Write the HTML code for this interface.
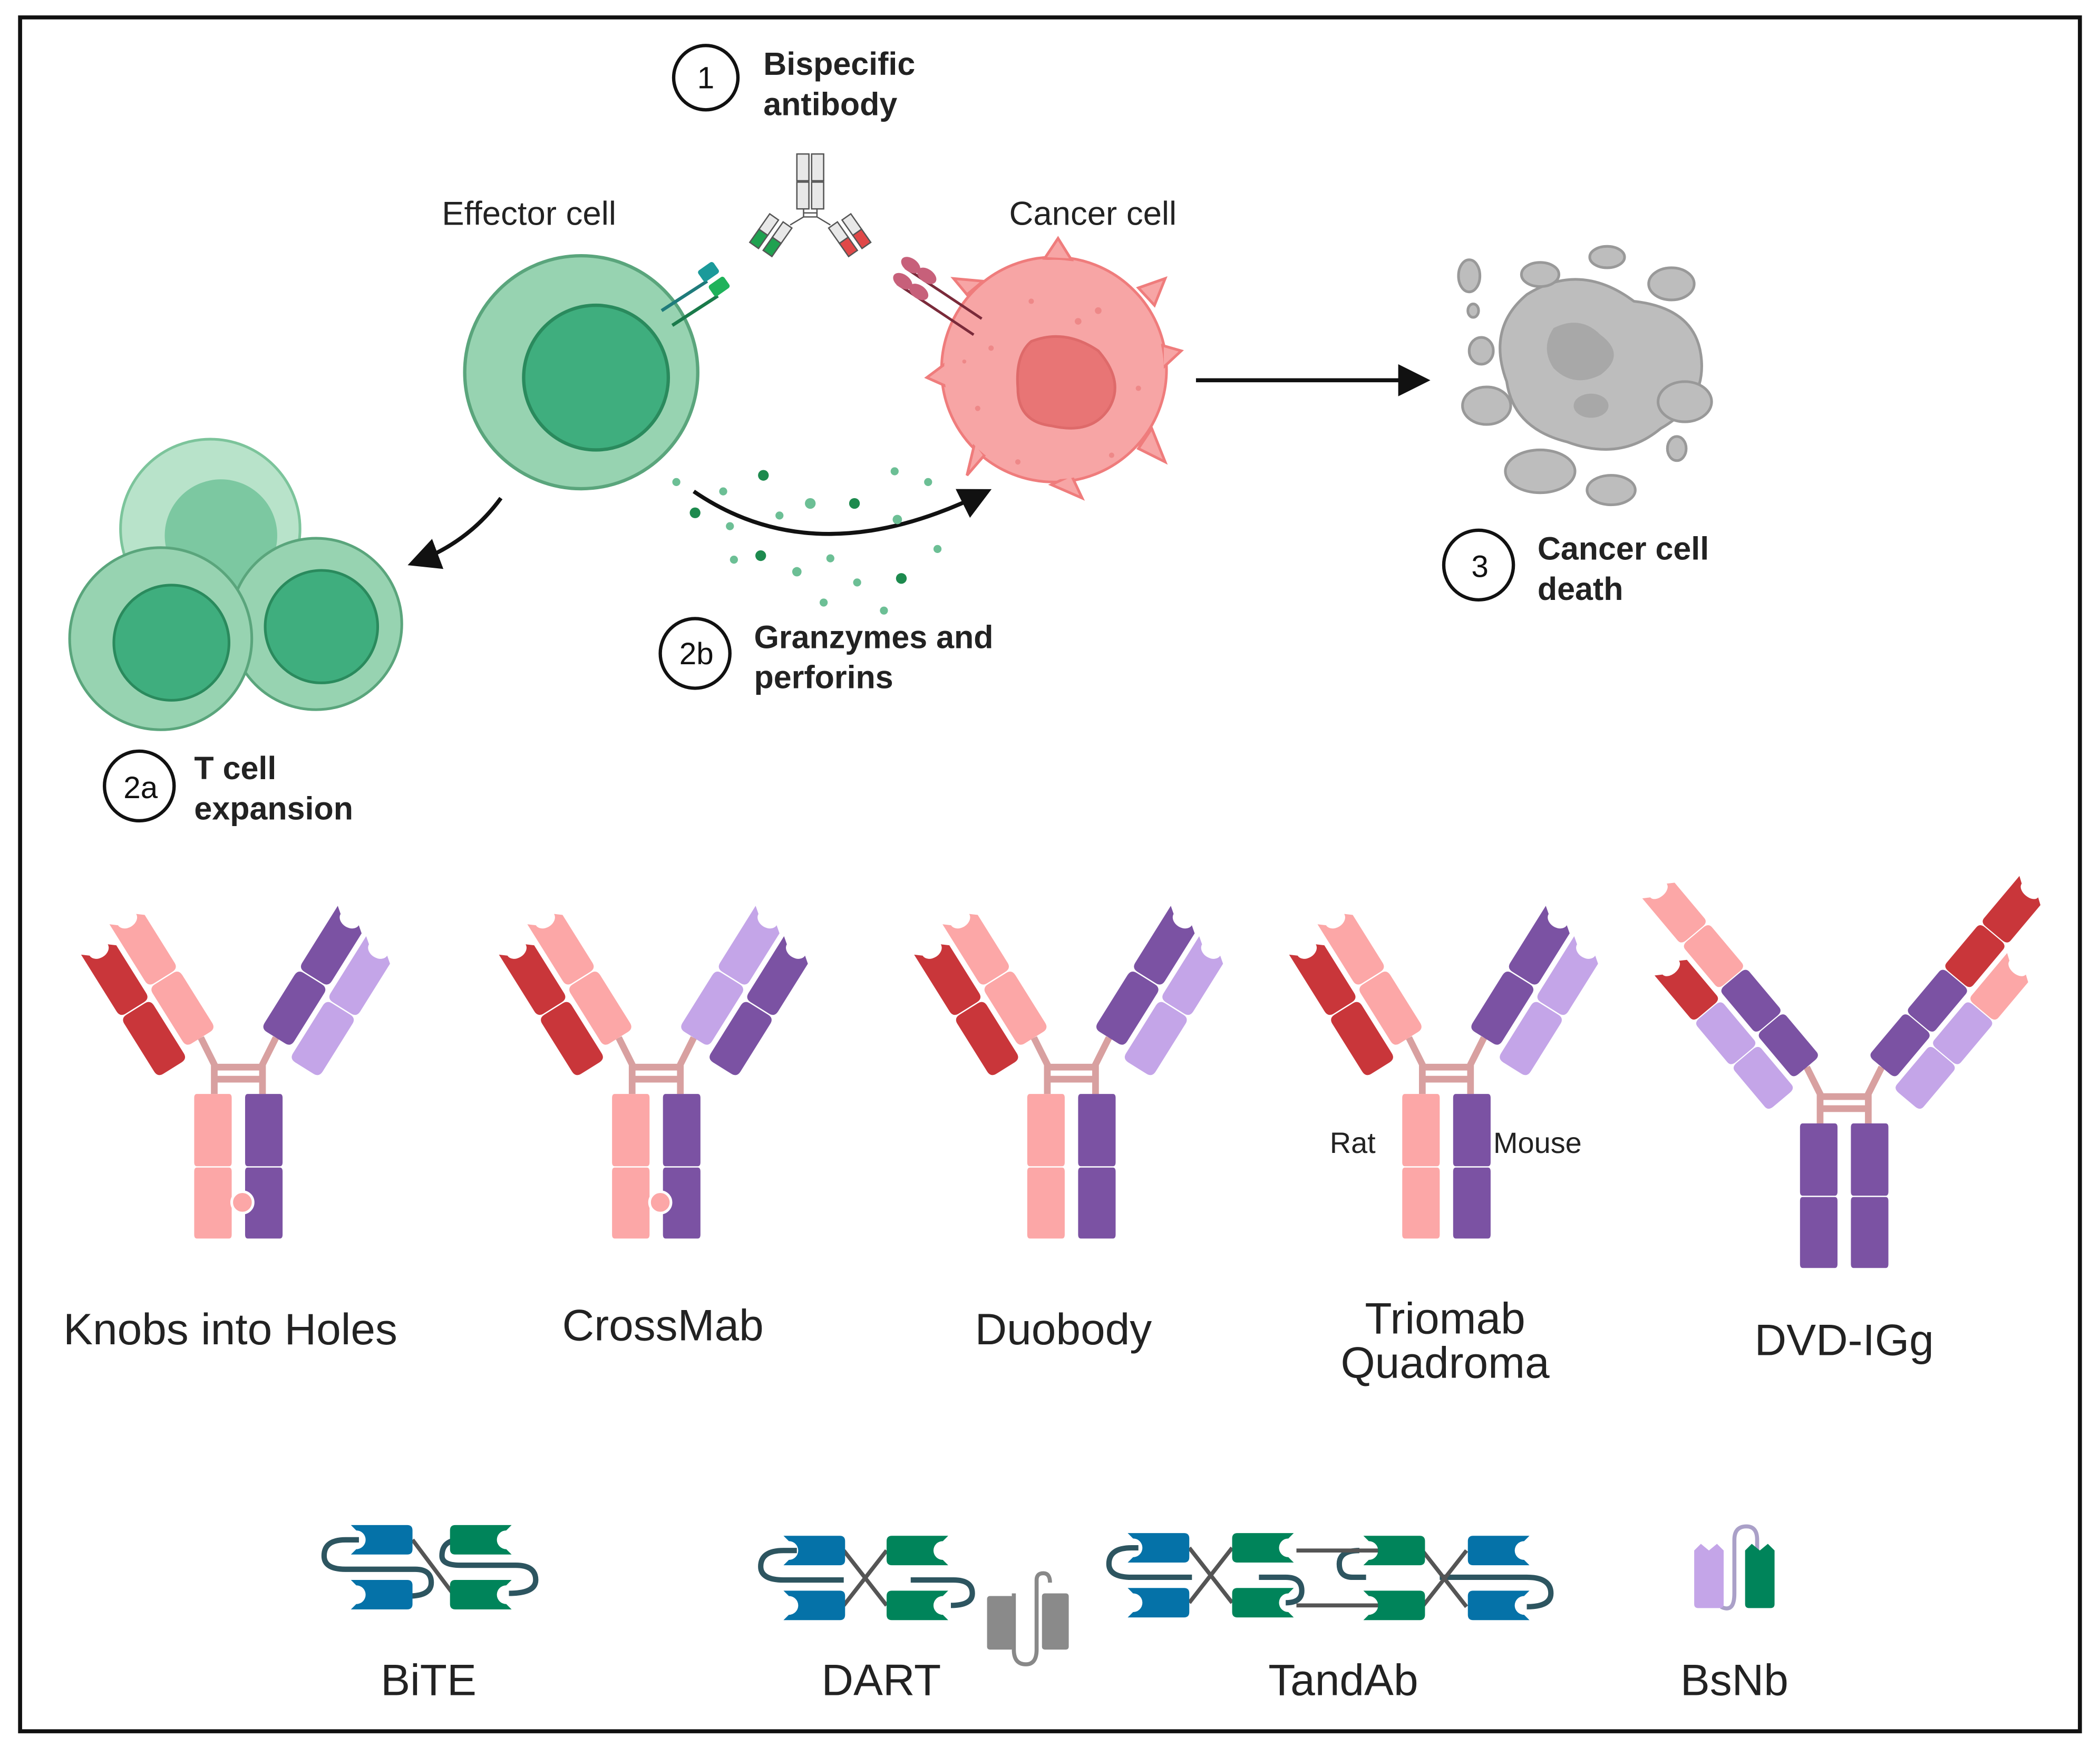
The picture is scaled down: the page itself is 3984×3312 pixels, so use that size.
<!DOCTYPE html>
<html><head><meta charset="utf-8"><style>
html,body{margin:0;padding:0;background:#fff}
svg{display:block}
text{font-family:"Liberation Sans",Arial,sans-serif}
</style></head><body>
<svg width="3984" height="3312" viewBox="0 0 1568 1304" preserveAspectRatio="none" xmlns="http://www.w3.org/2000/svg">
<defs>
<path id="cb" d="M-13,-47 Q-13,-52 -8,-52 L8,-52 Q13,-52 13,-47 L13,-5 Q13,0 8,0 L-8,0 Q-13,0 -13,-5 Z"/>
<path id="vb" d="M-13,-58 Q-13,-53 -8,-53 L8,-53 Q13,-53 13,-58 L13,-100 L8,-104 A8,6 0 0 1 -8,-104 L-13,-108 Z"/>
<path id="sb" d="M-22,-11 L20,-11 Q24,-11 24,-7 L24,7 Q24,11 20,11 L-22,11 L-18,7 A7,7 0 0 0 -18,-7 Z"/>
<path id="st" d="M-31,-108 h24 q2,0 2,3 v48 q0,3 -2,3 h-24 q-2,0 -2,-3 v-48 q0,-3 2,-3Z M-31,-53 h24 q2,0 2,3 v47 q0,3 -2,3 h-24 q-2,0 -2,-3 v-47 q0,-3 2,-3Z"/>
<marker id="ah" markerWidth="8" markerHeight="8" refX="6" refY="4" orient="auto" markerUnits="strokeWidth"><path d="M0,0 L8,4 L0,8 Z" fill="#111"/></marker>
</defs>
<rect width="1568" height="1304" fill="#fff"/>
<rect x="15" y="13" width="1538" height="1280" fill="none" stroke="#111" stroke-width="3"/>

<!-- T cell expansion -->
<circle cx="157" cy="395" r="67" fill="#b8e3ca" stroke="#7cc49b" stroke-width="2"/>
<circle cx="165" cy="400" r="42" fill="#7cc8a1"/>
<circle cx="236" cy="466" r="64" fill="#97d3b1" stroke="#5aa57c" stroke-width="2"/>
<circle cx="240" cy="468" r="42" fill="#3fae7e" stroke="#2a8a5d" stroke-width="2"/>
<circle cx="120" cy="477" r="68" fill="#97d3b1" stroke="#5aa57c" stroke-width="2"/>
<circle cx="128" cy="480" r="43" fill="#3fae7e" stroke="#2a8a5d" stroke-width="2"/>
<path d="M374,372 Q350,405 310,420" fill="none" stroke="#111" stroke-width="3" marker-end="url(#ah)"/>

<!-- Effector cell -->
<circle cx="434" cy="278" r="87" fill="#97d3b1" stroke="#5aa57c" stroke-width="2.5"/>
<circle cx="445" cy="282" r="54" fill="#3fae7e" stroke="#2a8a5d" stroke-width="2.5"/>
<line x1="494" y1="232" x2="528" y2="210" stroke="#1f7b7b" stroke-width="2.5"/>
<rect x="522" y="198" width="14" height="10" rx="2" fill="#1b9a9a" transform="rotate(-35 529 203)"/>
<line x1="502" y1="243" x2="536" y2="221" stroke="#1a7a4a" stroke-width="2.5"/>
<rect x="530" y="209" width="14" height="10" rx="2" fill="#1fb25a" transform="rotate(-35 537 214)"/>
<text x="395" y="168" font-size="25" text-anchor="middle" fill="#222">Effector cell</text>

<!-- small antibody -->
<g stroke="#555" stroke-width="1">
<rect x="595" y="115" width="9" height="20" fill="#e8e8e8"/><rect x="606" y="115" width="9" height="20" fill="#e8e8e8"/>
<rect x="595" y="136" width="9" height="20" fill="#e8e8e8"/><rect x="606" y="136" width="9" height="20" fill="#e8e8e8"/>
<path d="M600,156 V162 L590,168 M610,156 V162 L620,168 M600,159 H610 M600,162 H610" fill="none"/>
<g transform="translate(588,168) rotate(35)"><rect x="-4" y="0" width="8" height="14" fill="#e8e8e8"/><rect x="-4" y="14" width="8" height="12" fill="#1fa150"/></g>
<g transform="translate(578,162) rotate(35)"><rect x="-4" y="0" width="8" height="14" fill="#e8e8e8"/><rect x="-4" y="14" width="8" height="12" fill="#1fa150"/></g>
<g transform="translate(622,168) rotate(-35)"><rect x="-4" y="0" width="8" height="14" fill="#e8e8e8"/><rect x="-4" y="14" width="8" height="12" fill="#e04848"/></g>
<g transform="translate(632,162) rotate(-35)"><rect x="-4" y="0" width="8" height="14" fill="#e8e8e8"/><rect x="-4" y="14" width="8" height="12" fill="#e04848"/></g>
</g>

<!-- Cancer cell -->
<g fill="#f7a5a5" stroke="#ef7c7c" stroke-width="2">
<circle cx="787" cy="276" r="84"/>
<path d="M780,193 L790,178 L800,194Z M850,215 L870,208 L862,228Z M868,258 L882,262 L868,275Z M860,320 L870,345 L850,335Z M800,355 L808,372 L785,362Z M735,340 L722,355 L728,330Z M710,290 L692,282 L708,270Z M722,220 L712,208 L734,210Z"/>
</g>
<circle cx="787" cy="276" r="82" fill="#f7a5a5"/>
<path d="M770,255 Q795,245 820,262 Q840,285 828,305 Q815,325 785,318 Q760,315 760,290 Q758,265 770,255Z" fill="#e87575" stroke="#de6a6a" stroke-width="2"/>
<g fill="#ee8888"><circle cx="740" cy="260" r="2"/><circle cx="770" cy="225" r="2"/><circle cx="820" cy="232" r="2.5"/><circle cx="850" cy="290" r="2"/><circle cx="730" cy="305" r="2"/><circle cx="760" cy="345" r="2"/><circle cx="830" cy="340" r="2"/><circle cx="805" cy="240" r="2.5"/><circle cx="720" cy="270" r="1.5"/></g>
<line x1="676" y1="200" x2="733" y2="238" stroke="#7a2a3a" stroke-width="2"/>
<line x1="670" y1="212" x2="727" y2="250" stroke="#7a2a3a" stroke-width="2"/>
<g fill="#c7607a"><ellipse cx="680" cy="198" rx="8" ry="5" transform="rotate(35 680 198)"/><ellipse cx="692" cy="206" rx="8" ry="5" transform="rotate(35 692 206)"/><ellipse cx="674" cy="210" rx="8" ry="5" transform="rotate(35 674 210)"/><ellipse cx="686" cy="218" rx="8" ry="5" transform="rotate(35 686 218)"/></g>
<text x="816" y="168" font-size="25" text-anchor="middle" fill="#222">Cancer cell</text>

<!-- granzymes -->
<path d="M518,367 Q610,430 735,368" fill="none" stroke="#111" stroke-width="3" marker-end="url(#ah)"/>
<g fill="#1d8a4e"><circle cx="570" cy="355" r="4"/><circle cx="519" cy="383" r="4"/><circle cx="638" cy="376" r="4"/><circle cx="568" cy="415" r="4"/><circle cx="673" cy="432" r="4"/></g>
<g fill="#6cbf95"><circle cx="505" cy="360" r="3"/><circle cx="540" cy="367" r="3"/><circle cx="582" cy="385" r="3"/><circle cx="605" cy="376" r="4"/><circle cx="668" cy="352" r="3"/><circle cx="693" cy="360" r="3"/><circle cx="670" cy="388" r="3.5"/><circle cx="545" cy="393" r="3"/><circle cx="595" cy="427" r="3.5"/><circle cx="620" cy="417" r="3"/><circle cx="640" cy="435" r="3"/><circle cx="548" cy="418" r="3"/><circle cx="615" cy="450" r="3"/><circle cx="660" cy="456" r="3"/><circle cx="700" cy="410" r="3"/></g>

<!-- arrow to death -->
<line x1="893" y1="284" x2="1062" y2="284" stroke="#111" stroke-width="3" marker-end="url(#ah)"/>
<!-- dead cell -->
<g fill="#bdbdbd" stroke="#999" stroke-width="2">
<path d="M1140,220 Q1180,195 1220,225 Q1265,230 1270,265 Q1275,300 1240,320 Q1210,345 1170,330 Q1130,320 1125,285 Q1110,245 1140,220Z"/>
<ellipse cx="1097" cy="206" rx="8" ry="12"/><ellipse cx="1150" cy="205" rx="14" ry="9"/><ellipse cx="1200" cy="192" rx="13" ry="8"/><ellipse cx="1248" cy="212" rx="17" ry="12"/>
<ellipse cx="1106" cy="262" rx="9" ry="10"/><ellipse cx="1110" cy="303" rx="18" ry="14"/><ellipse cx="1258" cy="300" rx="20" ry="15"/>
<ellipse cx="1150" cy="352" rx="26" ry="16"/><ellipse cx="1203" cy="366" rx="18" ry="11"/><ellipse cx="1252" cy="335" rx="7" ry="9"/><ellipse cx="1100" cy="232" rx="4" ry="5"/>
</g>
<path d="M1160,245 Q1180,235 1195,250 Q1215,265 1195,280 Q1175,290 1160,275 Q1150,260 1160,245Z" fill="#a8a8a8"/>
<ellipse cx="1188" cy="303" rx="13" ry="9" fill="#a8a8a8"/>

<!-- labels with circles -->
<g fill="none" stroke="#111" stroke-width="2.5">
<circle cx="527" cy="58" r="24"/><circle cx="1104" cy="422" r="26"/><circle cx="519" cy="488" r="26"/><circle cx="104" cy="587" r="26"/></g>
<g font-size="23" text-anchor="middle" fill="#111">
<text x="527" y="66">1</text><text x="1105" y="431">3</text><text x="520" y="496">2b</text><text x="105" y="596">2a</text></g>
<g font-size="24" font-weight="bold" fill="#222">
<text x="570" y="56">Bispecific</text><text x="570" y="86">antibody</text>
<text x="1148" y="418">Cancer cell</text><text x="1148" y="448">death</text>
<text x="563" y="484">Granzymes and</text><text x="563" y="514">perforins</text>
<text x="145" y="582">T cell</text><text x="145" y="612">expansion</text>
</g>

<!-- AB1 Knobs into holes -->
<g transform="translate(178,925)">
<path d="M-18,-108 V-130 L-28,-150 M18,-108 V-130 L28,-150 M-18,-128 H18 M-18,-119 H18" fill="none" stroke="#d8a0a0" stroke-width="5"/>
<use href="#st" fill="#fca7a7"/><use href="#st" fill="#7b52a3" transform="scale(-1,1)"/>
<circle cx="3" cy="-27" r="8" fill="#fca7a7" stroke="#fff" stroke-width="2"/>
<g transform="translate(-28,-150) rotate(-32)"><use href="#cb" fill="#fca7a7"/><use href="#vb" fill="#fca7a7"/><g transform="translate(-30,8)"><use href="#cb" fill="#c9363a"/><use href="#vb" fill="#c9363a"/></g></g>
<g transform="translate(28,-150) rotate(32)"><use href="#cb" fill="#7b52a3"/><use href="#vb" fill="#7b52a3"/><g transform="translate(30,8)"><use href="#cb" fill="#c4a5e8"/><use href="#vb" fill="#c4a5e8"/></g></g>
</g>
<!-- AB2 CrossMab -->
<g transform="translate(490,925)">
<path d="M-18,-108 V-130 L-28,-150 M18,-108 V-130 L28,-150 M-18,-128 H18 M-18,-119 H18" fill="none" stroke="#d8a0a0" stroke-width="5"/>
<use href="#st" fill="#fca7a7"/><use href="#st" fill="#7b52a3" transform="scale(-1,1)"/>
<circle cx="3" cy="-27" r="8" fill="#fca7a7" stroke="#fff" stroke-width="2"/>
<g transform="translate(-28,-150) rotate(-32)"><use href="#cb" fill="#fca7a7"/><use href="#vb" fill="#fca7a7"/><g transform="translate(-30,8)"><use href="#cb" fill="#c9363a"/><use href="#vb" fill="#c9363a"/></g></g>
<g transform="translate(28,-150) rotate(32)"><use href="#cb" fill="#c4a5e8"/><use href="#vb" fill="#c4a5e8"/><g transform="translate(30,8)"><use href="#cb" fill="#7b52a3"/><use href="#vb" fill="#7b52a3"/></g></g>
</g>
<!-- AB3 Duobody -->
<g transform="translate(800,925)">
<path d="M-18,-108 V-130 L-28,-150 M18,-108 V-130 L28,-150 M-18,-128 H18 M-18,-119 H18" fill="none" stroke="#d8a0a0" stroke-width="5"/>
<use href="#st" fill="#fca7a7"/><use href="#st" fill="#7b52a3" transform="scale(-1,1)"/>
<g transform="translate(-28,-150) rotate(-32)"><use href="#cb" fill="#fca7a7"/><use href="#vb" fill="#fca7a7"/><g transform="translate(-30,8)"><use href="#cb" fill="#c9363a"/><use href="#vb" fill="#c9363a"/></g></g>
<g transform="translate(28,-150) rotate(32)"><use href="#cb" fill="#7b52a3"/><use href="#vb" fill="#7b52a3"/><g transform="translate(30,8)"><use href="#cb" fill="#c4a5e8"/><use href="#vb" fill="#c4a5e8"/></g></g>
</g>
<!-- AB4 Triomab -->
<g transform="translate(1080,925)">
<path d="M-18,-108 V-130 L-28,-150 M18,-108 V-130 L28,-150 M-18,-128 H18 M-18,-119 H18" fill="none" stroke="#d8a0a0" stroke-width="5"/>
<use href="#st" fill="#fca7a7"/><use href="#st" fill="#7b52a3" transform="scale(-1,1)"/>
<g transform="translate(-28,-150) rotate(-32)"><use href="#cb" fill="#fca7a7"/><use href="#vb" fill="#fca7a7"/><g transform="translate(-30,8)"><use href="#cb" fill="#c9363a"/><use href="#vb" fill="#c9363a"/></g></g>
<g transform="translate(28,-150) rotate(32)"><use href="#cb" fill="#7b52a3"/><use href="#vb" fill="#7b52a3"/><g transform="translate(30,8)"><use href="#cb" fill="#c4a5e8"/><use href="#vb" fill="#c4a5e8"/></g></g>
</g>
<text x="1010" y="861" font-size="22" text-anchor="middle" fill="#222">Rat</text>
<text x="1148" y="861" font-size="22" text-anchor="middle" fill="#222">Mouse</text>
<!-- AB5 DVD -->
<g transform="translate(1377,947)">
<path d="M-18,-108 V-130 L-28,-150 M18,-108 V-130 L28,-150 M-18,-128 H18 M-18,-119 H18" fill="none" stroke="#d8a0a0" stroke-width="5"/>
<use href="#st" fill="#7b52a3"/><use href="#st" fill="#7b52a3" transform="scale(-1,1)"/>
<g transform="translate(-28,-150) rotate(-40) scale(1,0.82)">
<use href="#cb" fill="#7b52a3"/><use href="#cb" fill="#7b52a3" transform="translate(0,-53)"/><use href="#cb" fill="#fca7a7" transform="translate(0,-106)"/><use href="#vb" fill="#fca7a7" transform="translate(0,-106)"/>
<g transform="translate(-30,8)"><use href="#cb" fill="#c4a5e8"/><use href="#cb" fill="#c4a5e8" transform="translate(0,-53)"/><use href="#vb" fill="#c9363a" transform="translate(0,-53)"/></g></g>
<g transform="translate(28,-150) rotate(40) scale(1,0.82)">
<use href="#cb" fill="#7b52a3"/><use href="#cb" fill="#7b52a3" transform="translate(0,-53)"/><use href="#cb" fill="#c9363a" transform="translate(0,-106)"/><use href="#vb" fill="#c9363a" transform="translate(0,-106)"/>
<g transform="translate(30,8)"><use href="#cb" fill="#c4a5e8"/><use href="#cb" fill="#c4a5e8" transform="translate(0,-53)"/><use href="#vb" fill="#fca7a7" transform="translate(0,-53)"/></g></g>
</g>

<g font-size="33" text-anchor="middle" fill="#222">
<text x="172" y="1004">Knobs into Holes</text>
<text x="495" y="1001">CrossMab</text>
<text x="794" y="1004">Duobody</text>
<text x="1079" y="996">Triomab</text><text x="1079" y="1029">Quadroma</text>
<text x="1377" y="1012">DVD-IGg</text>
<text x="320" y="1266">BiTE</text>
<text x="658" y="1266">DART</text>
<text x="1003" y="1266">TandAb</text>
<text x="1295" y="1266">BsNb</text>
</g>

<!-- BiTE -->
<g fill="none" stroke="#2d5560" stroke-width="4">
<path d="M268,1150 H258 Q242,1150 242,1162 Q242,1172 258,1172 H310 Q322,1172 322,1182 Q322,1192 305,1192"/>
<path d="M344,1150 Q330,1150 330,1162 Q330,1169 344,1169 H385 Q400,1169 400,1180 Q400,1190 380,1190"/>
</g>
<line x1="308" y1="1150" x2="338" y2="1190" stroke="#555" stroke-width="3"/>
<use href="#sb" fill="#0572a8" transform="translate(284,1150)"/>
<use href="#sb" fill="#0572a8" transform="translate(284,1191)"/>
<use href="#sb" fill="#00845a" transform="translate(360,1150) scale(-1,1)"/>
<use href="#sb" fill="#00845a" transform="translate(360,1191) scale(-1,1)"/>

<!-- DART -->
<g fill="none" stroke="#2d5560" stroke-width="4">
<path d="M595,1158 H585 Q568,1158 568,1170 Q568,1180 585,1180 H630"/>
<path d="M680,1180 H712 Q726,1180 726,1190 Q726,1199 710,1199"/>
</g>
<line x1="630" y1="1158" x2="662" y2="1199" stroke="#555" stroke-width="3"/>
<line x1="630" y1="1199" x2="662" y2="1158" stroke="#555" stroke-width="3"/>
<use href="#sb" fill="#0572a8" transform="translate(607,1158)"/>
<use href="#sb" fill="#0572a8" transform="translate(607,1199)"/>
<use href="#sb" fill="#00845a" transform="translate(686,1158) scale(-1,1)"/>
<use href="#sb" fill="#00845a" transform="translate(686,1199) scale(-1,1)"/>
<path d="M757,1190 V1232 Q757,1243 766,1243 Q774,1243 774,1232 V1180 Q774,1175 779,1175 Q784,1175 784,1182" fill="none" stroke="#888" stroke-width="3"/>
<rect x="737" y="1192" width="20" height="40" rx="2" fill="#8a8a8a"/>
<rect x="778" y="1190" width="20" height="42" rx="2" fill="#8a8a8a"/>

<!-- TandAb -->
<g fill="none" stroke="#2d5560" stroke-width="4">
<path d="M850,1156 H845 Q828,1156 828,1168 Q828,1178 845,1178 H890"/>
<path d="M940,1178 H960 Q972,1178 972,1188 Q972,1197 960,1197"/>
<path d="M1020,1178 H1010 Q1000,1178 1000,1168 Q1000,1158 1015,1158"/>
<path d="M1075,1178 H1140 Q1158,1178 1158,1190 Q1158,1200 1140,1200"/>
</g>
<g stroke="#555" stroke-width="3">
<line x1="888" y1="1156" x2="920" y2="1197"/><line x1="888" y1="1197" x2="920" y2="1156"/>
<line x1="968" y1="1158" x2="1040" y2="1158"/><line x1="968" y1="1199" x2="1040" y2="1199"/>
<line x1="1062" y1="1158" x2="1095" y2="1200"/><line x1="1062" y1="1200" x2="1095" y2="1158"/>
</g>
<use href="#sb" fill="#0572a8" transform="translate(864,1156)"/>
<use href="#sb" fill="#0572a8" transform="translate(864,1197)"/>
<use href="#sb" fill="#00845a" transform="translate(944,1156) scale(-1,1)"/>
<use href="#sb" fill="#00845a" transform="translate(944,1197) scale(-1,1)"/>
<use href="#sb" fill="#00845a" transform="translate(1040,1158)"/>
<use href="#sb" fill="#00845a" transform="translate(1040,1199)"/>
<use href="#sb" fill="#0572a8" transform="translate(1120,1158) scale(-1,1)"/>
<use href="#sb" fill="#0572a8" transform="translate(1120,1199) scale(-1,1)"/>

<!-- BsNb -->
<path d="M1285,1200 Q1295,1205 1295,1190 V1150 Q1295,1140 1304,1140 Q1312,1140 1312,1150 V1158" fill="none" stroke="#aaa0c8" stroke-width="3"/>
<path d="M1265,1158 L1270,1153 L1276,1158 L1282,1153 L1287,1158 V1198 Q1287,1201 1284,1201 H1268 Q1265,1201 1265,1198Z" fill="#c4a5e8"/>
<path d="M1303,1158 L1308,1153 L1314,1158 L1320,1153 L1325,1158 V1198 Q1325,1201 1322,1201 H1306 Q1303,1201 1303,1198Z" fill="#00845a"/>
</svg>
</body></html>
